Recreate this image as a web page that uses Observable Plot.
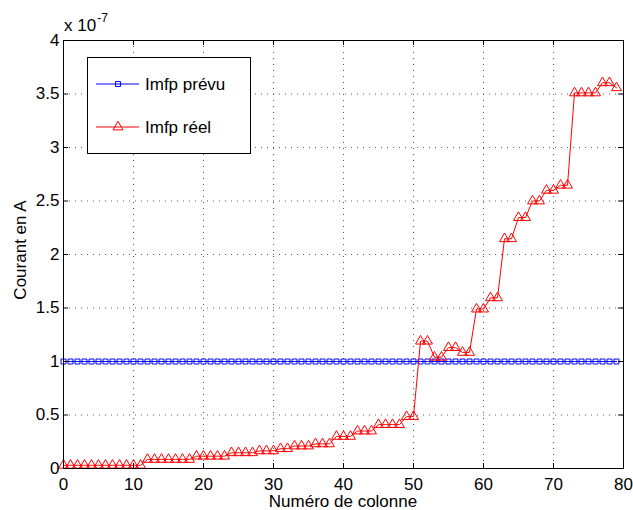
<!DOCTYPE html>
<html>
<head>
<meta charset="utf-8">
<script src="https://cdn.jsdelivr.net/npm/d3@7"></script>
<script src="https://cdn.jsdelivr.net/npm/@observablehq/plot@0.6"></script>
<style>
  html, body { margin: 0; padding: 0; background: #fff; }
  #chart { width: 633px; height: 510px; }
</style>
</head>
<body>
<div id="chart"></div>
<script>
// Column numbers (x)
const columns = [
  0,1,2,3,4,5,6,7,8,9,10,11,12,13,14,15,16,17,18,19,
  20,21,22,23,24,25,26,27,28,29,30,31,32,33,34,35,36,37,38,39,
  40,41,42,43,44,45,46,47,48,49,50,51,52,53,54,55,56,57,58,59,
  60,61,62,63,64,65,66,67,68,69,70,71,72,73,74,75,76,77,78,79
];
// Imfp prévu (x 1e-7 A)
const imfpPrevu = [
  1,1,1,1,1,1,1,1,1,1,1,1,1,1,1,1,1,1,1,1,
  1,1,1,1,1,1,1,1,1,1,1,1,1,1,1,1,1,1,1,1,
  1,1,1,1,1,1,1,1,1,1,1,1,1,1,1,1,1,1,1,1,
  1,1,1,1,1,1,1,1,1,1,1,1,1,1,1,1,1,1,1,1
];
// Imfp réel (x 1e-7 A)
const imfpReel = [
  0.03,0.03,0.03,0.03,0.03,0.03,0.03,0.03,0.03,0.03,0.03,0.03,
  0.085,0.085,0.085,0.085,0.085,0.085,0.085,
  0.115,0.115,0.115,0.115,0.115,
  0.147,0.147,0.147,0.147,
  0.165,0.165,0.165,
  0.185,0.185,
  0.21,0.21,0.21,
  0.23,0.23,0.23,
  0.30,0.30,0.30,
  0.35,0.35,0.35,
  0.41,0.41,0.41,0.41,
  0.485,0.485,
  1.19,1.19,
  1.04,1.04,
  1.13,1.13,
  1.085,1.085,
  1.49,1.49,
  1.595,1.595,
  2.147,2.147,
  2.345,2.345,
  2.5,2.5,
  2.6,2.6,
  2.647,2.647,
  3.51,3.51,3.51,3.51,
  3.605,3.605,
  3.558
];
const xTicks = [0,10,20,30,40,50,60,70,80];
const xTickLabels = ["0","10","20","30","40","50","60","70","80"];
const yTicks = [0,0.5,1,1.5,2,2.5,3,3.5,4];
const yTickLabels = ["0","0.5","1","1.5","2","2.5","3","3.5","4"];
const seriesNames = ["Imfp prévu","Imfp réel"];
const xLabel = "Numéro de colonne";
const yLabel = "Courant en A";
const multiplierBase = "x 10";
const multiplierExp = "-7";

const prevuData = columns.map((c,i) => ({x: c, y: imfpPrevu[i]}));
const reelData = columns.map((c,i) => ({x: c, y: imfpReel[i]}));

const W = 633, H = 510, mL = 63, mR = 10, mT = 40, mB = 42;
const plotW = W - mL - mR, plotH = H - mT - mB;
const font = "'Liberation Sans', Arial, Helvetica, sans-serif";

const chart = Plot.plot({
  width: W, height: H,
  marginLeft: mL, marginRight: mR, marginTop: mT, marginBottom: mB,
  style: {fontFamily: font, fontSize: "17px", background: "#fff", color: "#000", overflow: "visible"},
  x: {domain: [0, 80]},
  y: {domain: [0, 4]},
  marks: [
    Plot.gridX(xTicks.slice(1, -1), {stroke: "#000", strokeOpacity: 0.65, strokeDasharray: "1,5", strokeWidth: 1}),
    Plot.gridY(yTicks.slice(1, -1), {stroke: "#000", strokeOpacity: 0.65, strokeDasharray: "1,5", strokeWidth: 1}),
    Plot.line(prevuData, {x: "x", y: "y", stroke: "#0000ff", strokeWidth: 1}),
    Plot.dot(prevuData, {x: "x", y: "y", symbol: "square", r: 2.8, stroke: "#0000ff", fill: "none", strokeWidth: 1}),
    Plot.line(reelData, {x: "x", y: "y", stroke: "#ff0000", strokeWidth: 1}),
    Plot.dot(reelData, {x: "x", y: "y", symbol: "triangle", r: 3.7, stroke: "#ff0000", fill: "none", strokeWidth: 1}),
    Plot.frame({stroke: "#000", strokeWidth: 1}),
    Plot.tickX(xTicks, {x: d => d, insetTop: plotH - 5, stroke: "#000"}),
    Plot.tickX(xTicks, {x: d => d, insetBottom: plotH - 5, stroke: "#000"}),
    Plot.tickY(yTicks, {y: d => d, insetRight: plotW - 5, stroke: "#000"}),
    Plot.tickY(yTicks, {y: d => d, insetLeft: plotW - 5, stroke: "#000"}),
    Plot.axisX(xTicks, {tickSize: 0, tickPadding: 9, label: null, fontSize: 17,
      tickFormat: d => xTickLabels[xTicks.indexOf(d)]}),
    Plot.axisY(yTicks, {tickSize: 0, tickPadding: 4, label: null, fontSize: 17,
      tickFormat: d => yTickLabels[yTicks.indexOf(d)]})
  ]
});

document.getElementById("chart").appendChild(chart);

const svg = d3.select(chart);
// axis labels
svg.append("text")
  .attr("x", mL + plotW / 2).attr("y", 507)
  .attr("text-anchor", "middle")
  .style("font-family", font).style("font-size", "17px").attr("fill", "#000")
  .text(xLabel);
svg.append("text")
  .attr("transform", `translate(26,${mT + plotH / 2 - 4}) rotate(-90)`)
  .attr("text-anchor", "middle")
  .style("font-family", font).style("font-size", "17px").attr("fill", "#000")
  .text(yLabel);
// multiplier
const mt = svg.append("text")
  .attr("x", 64).attr("y", 31)
  .attr("text-anchor", "start")
  .style("font-family", font).style("font-size", "17px").attr("fill", "#000");
mt.append("tspan").text(multiplierBase);
mt.append("tspan").attr("dx", 1).attr("dy", -9.5).style("font-size", "12px").text(multiplierExp);

// legend
const lg = svg.append("g").attr("text-anchor", "start");
lg.append("rect").attr("x", 87.5).attr("y", 57.5).attr("width", 163).attr("height", 96)
  .attr("fill", "#fff").attr("stroke", "#000").attr("stroke-width", 1);
const rows = [
  {name: seriesNames[0], color: "#0000ff", sym: d3.symbolSquare, size: Math.PI * 2.8 * 2.8, y: 84},
  {name: seriesNames[1], color: "#ff0000", sym: d3.symbolTriangle, size: Math.PI * 3.7 * 3.7, y: 127}
];
for (const r of rows) {
  lg.append("line").attr("x1", 96).attr("x2", 139).attr("y1", r.y).attr("y2", r.y)
    .attr("stroke", r.color).attr("stroke-width", 1);
  lg.append("path").attr("d", d3.symbol(r.sym, r.size)())
    .attr("transform", `translate(118,${r.y})`)
    .attr("fill", "none").attr("stroke", r.color).attr("stroke-width", 1);
  lg.append("text").attr("x", 145).attr("y", r.y).attr("dy", "0.35em")
    .attr("text-anchor", "start")
    .style("font-family", font).style("font-size", "17px").attr("fill", "#000")
    .text(r.name);
}
</script>
</body>
</html>
